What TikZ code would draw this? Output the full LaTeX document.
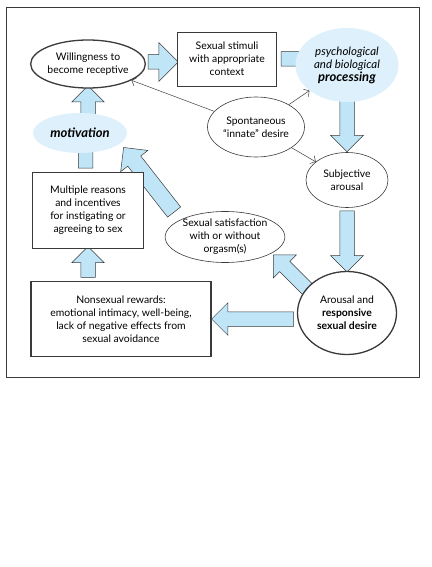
\documentclass[tikz,border=0pt]{standalone}
\usepackage{fontspec}
\setmainfont{Lato}
\usetikzlibrary{shapes.geometric,shapes.arrows,arrows.meta}
\definecolor{arrowblue}{HTML}{BFE5F7}
\definecolor{haloblue}{HTML}{DDF0FB}
\definecolor{edgegray}{HTML}{3A3A3A}
\pgfdeclarelayer{behind}
\pgfsetlayers{behind,main}

\begin{document}
\begin{tikzpicture}[x=1pt, y=-1pt,
    font=\fontsize{10.4}{13}\selectfont,
    oval/.style={ellipse, draw=edgegray, line width=0.6pt, fill=white, align=center, inner sep=0pt},
    box/.style={rectangle, draw=edgegray, line width=0.6pt, fill=white, align=center, inner sep=0pt},
    halo/.style={ellipse, fill=haloblue, align=center, inner sep=0pt},
    fatarrow/.style={single arrow, draw=edgegray, line width=0.5pt, fill=arrowblue,
      single arrow head extend=9pt, inner xsep=0pt, inner ysep=7pt, sloped, allow upside down, midway},
    thinarrow/.style={draw=edgegray, line width=0.5pt, -{Straight Barb[length=4pt,width=9pt]}}]

  \useasboundingbox (0,0) rectangle (431,567);

  % outer frame
  \draw[edgegray, line width=0.8pt] (6,7) rectangle (419,377);

  % ovals and boxes
  \node[oval, line width=1.3pt, minimum width=111pt, minimum height=48pt] (will) at (88,64) {Willingness to\\become receptive};
  \node[box, minimum width=99pt, minimum height=54pt] (stim) at (227,59) {Sexual stimuli\\with appropriate\\context};
  \node[halo, minimum width=103pt, minimum height=74pt] (psych) at (347,65)
    {\fontsize{11.5}{13}\selectfont\textit{psychological}\\\fontsize{11.5}{13}\selectfont\textit{and biological}\\\fontsize{13}{16}\selectfont\textbf{\textit{processing}}};
  \node[oval, minimum width=97pt, minimum height=60pt] (spont) at (256,127) {Spontaneous\\“innate” desire};
  \node[halo, minimum width=94pt, minimum height=40pt] (motiv) at (80,133)
    {\fontsize{13}{14}\selectfont\textbf{\textit{motivation}}};
  \node[oval, minimum width=82pt, minimum height=55pt] (subj) at (347,180) {Subjective\\arousal};
  \node[box, minimum width=111pt, minimum height=76pt] (multi) at (88,210)
    {Multiple reasons\\and incentives\\for instigating or\\agreeing to sex};
  \node[oval, minimum width=104pt, minimum height=51pt] (satis) at (225,237)
    {Sexual satisfaction\\with or without\\orgasm(s)};
  \node[oval, line width=1.3pt, minimum width=99pt, minimum height=83pt] (arous) at (347,313)
    {Arousal and\\\textbf{responsive}\\\textbf{sexual desire}};
  \node[box, line width=1.3pt, minimum width=180pt, minimum height=75pt] (nonsex) at (121,319)
    {Nonsexual rewards:\\emotional intimacy, well-being,\\lack of negative effects from\\sexual avoidance};

  % block arrows, behind the shapes
  \begin{pgfonlayer}{behind}
    \path ([yshift=2pt]will.east) -- ([yshift=2pt,xshift=-4pt]will.east -| stim.west) node[fatarrow, single arrow head extend=12pt, minimum height=30pt] {};
    \path (stim.east) -- (stim.east -| psych.center) node[fatarrow, minimum height=69pt] {};
    \path (psych.center) -- ([yshift=4pt]subj.north) node[fatarrow, minimum height=83pt] {};
    \path (subj.south) -- ([yshift=3pt]arous.north) node[fatarrow, minimum height=61pt] {};
    \path ([yshift=-6pt]arous.west) -- ([yshift=-6pt,xshift=4pt]arous.west -| nonsex.east) node[fatarrow, minimum height=82pt] {};
    \path ([shift={(-2pt,-8pt)}]arous.north west) -- ([shift={(10pt,-4pt)}]satis.south east) node[fatarrow, minimum height=50pt] {};
    \path (multi.south |- nonsex.north) -- ([yshift=-2pt]multi.south) node[fatarrow, minimum height=31pt] {};
    \path ([shift={(-7pt,5pt)}]satis.north west) -- ([shift={(14pt,-5pt)}]motiv.south east) node[fatarrow, inner ysep=8pt, minimum height=82pt] {};
    \path ([xshift=-2.5pt]multi.north) -- ([xshift=-2.5pt]multi.north |- motiv.center) node[fatarrow, minimum height=39pt] {};
    \path (motiv.center -| will.south) -- ([yshift=-1pt]will.south) node[fatarrow, minimum height=44pt] {};
  \end{pgfonlayer}

  % thin arrows from spontaneous desire
  \draw[thinarrow] (spont) -- (will);
  \draw[thinarrow] (spont) -- (psych);
  \draw[thinarrow] (spont) -- (subj);
\end{tikzpicture}
\end{document}
